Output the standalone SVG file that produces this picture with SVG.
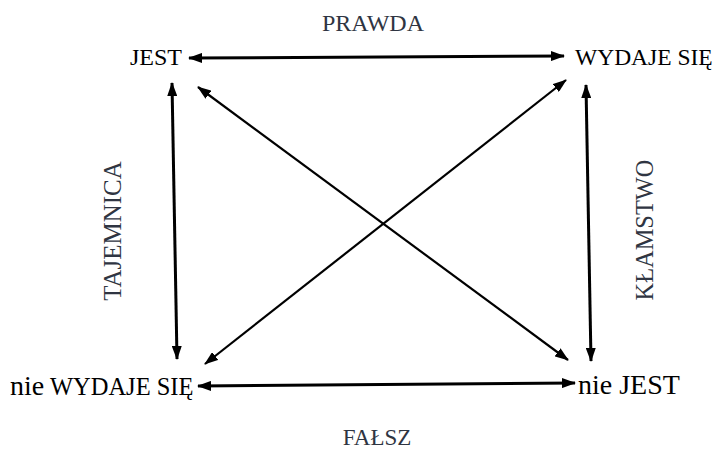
<svg xmlns="http://www.w3.org/2000/svg" width="718" height="451" viewBox="0 0 718 451">
<style>
text{font-family:'Liberation Serif','Times New Roman',serif}
.node{fill:#000}
.lbl{fill:#2f3542}
.c{stroke:#000;fill:none}
.thick{stroke-width:3}
.thin{stroke-width:2.2}
</style>
<defs>
<marker id="ah" viewBox="0 0 14 10" refX="13" refY="5" markerWidth="14" markerHeight="10" markerUnits="userSpaceOnUse" orient="auto-start-reverse">
<path d="M0,0 L14,5 L0,10 Z" fill="#000"/>
</marker>
</defs>
<rect width="718" height="451" fill="#fff"/>
<g id="connectors">
<line class="c thick" x1="189" y1="58" x2="564" y2="56" marker-start="url(#ah)" marker-end="url(#ah)"/>
<line class="c thick" x1="198" y1="386" x2="575" y2="383" marker-start="url(#ah)" marker-end="url(#ah)"/>
<line class="c thick" x1="172" y1="83" x2="177" y2="359" marker-start="url(#ah)" marker-end="url(#ah)"/>
<line class="c thick" x1="586" y1="85" x2="591" y2="361" marker-start="url(#ah)" marker-end="url(#ah)"/>
<line class="c thin" x1="198" y1="87" x2="568" y2="360" marker-start="url(#ah)" marker-end="url(#ah)"/>
<line class="c thin" x1="566" y1="80" x2="205" y2="364" marker-start="url(#ah)" marker-end="url(#ah)"/>
</g>
<g id="jest"><text class="node" x="130" y="65" font-size="24">JEST</text></g>
<g id="wydaje"><text class="node" x="575" y="65" font-size="23.5">WYDAJE SIĘ</text></g>
<g id="nie-wydaje"><text class="node" x="10" y="395"><tspan font-size="28">nie</tspan><tspan font-size="24.5"> WYDAJE SIĘ</tspan></text></g>
<g id="nie-jest"><text class="node" x="578" y="394" font-size="28">nie JEST</text></g>
<g id="prawda"><text class="lbl" x="373" y="31" font-size="24" text-anchor="middle">PRAWDA</text></g>
<g id="falsz"><text class="lbl" x="377" y="445" font-size="23" text-anchor="middle">FAŁSZ</text></g>
<g id="tajemnica"><text class="lbl" transform="translate(121,231) rotate(-90)" font-size="25" text-anchor="middle">TAJEMNICA</text></g>
<g id="klamstwo"><text class="lbl" transform="translate(653,230) rotate(-90)" font-size="24.4" text-anchor="middle">KŁAMSTWO</text></g>
</svg>
